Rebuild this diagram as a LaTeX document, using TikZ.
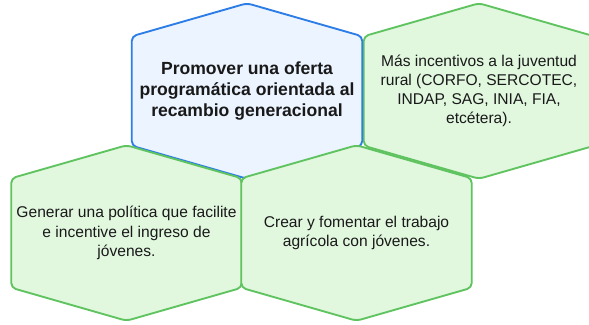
\documentclass[tikz,border=0pt]{standalone}
\usepackage{fontspec}
\setmainfont{Liberation Sans}
\usetikzlibrary{backgrounds}
\definecolor{hexblue}{RGB}{45,125,230}
\definecolor{hexbluefill}{RGB}{236,244,255}
\definecolor{hexgreen}{RGB}{95,195,95}
\definecolor{hexgreenfill}{RGB}{225,248,223}
\definecolor{txtdark}{RGB}{25,25,25}
% hexagon (point up and down) round a cell node
\newcommand{\hexof}[2]{%
  \filldraw[hexline,#2] (#1.north) -- ([yshift=-0.99cm]#1.north east)
    -- ([yshift=0.99cm]#1.south east) -- (#1.south)
    -- ([yshift=0.99cm]#1.south west) -- ([yshift=-0.99cm]#1.north west) -- cycle;}

\begin{document}
\begin{tikzpicture}[
  x=0.03cm, y=-0.03cm,
  cell/.style={rectangle,minimum width=6.9cm,minimum height=5.25cm,inner sep=0pt,
               align=center,text=txtdark},
  goalcell/.style={cell,font=\fontsize{15}{17.9}\selectfont\bfseries},
  ideacell/.style={cell,font=\fontsize{13.3}{16.4}\selectfont},
  hexline/.style={line width=1.6pt,rounded corners=4pt,line join=round},
  bluehex/.style={draw=hexblue,fill=hexbluefill},
  greenhex/.style={draw=hexgreen,fill=hexgreenfill},
]
\useasboundingbox (0,0) rectangle (589,324);
\clip (0,0) rectangle (589,324);
\node[goalcell] (goal)   at (247,91)    {Promover una oferta\\programática orientada al\\recambio generacional};
\node[ideacell] (incent) at (479,91)    {Más incentivos a la juventud\\rural (CORFO, SERCOTEC,\\INDAP, SAG, INIA, FIA,\\etcétera).};
\node[ideacell] (policy) at (126.5,233) {Generar una política que facilite\\e incentive el ingreso de\\jóvenes.};
\node[ideacell] (work)   at (356.5,233) {Crear y fomentar el trabajo\\agrícola con jóvenes.};
\begin{scope}[on background layer]
  \hexof{incent}{greenhex}
  \hexof{goal}{bluehex}
  \hexof{policy}{greenhex}
  \hexof{work}{greenhex}
\end{scope}
\end{tikzpicture}
\end{document}
